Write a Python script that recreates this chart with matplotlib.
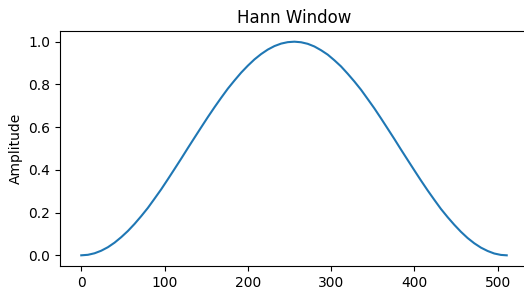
import numpy as np
import matplotlib
matplotlib.use('Agg')
import matplotlib.pyplot as plt

# sample index and amplitude
sample = [0, 8, 16, 24, 32, 40, 48, 56, 64, 72, 80, 88, 96, 104, 112, 120, 128,
          136, 144, 152, 160, 168, 176, 184, 192, 200, 208, 216, 224, 232, 240, 248, 256,
          264, 272, 280, 288, 296, 304, 312, 320, 328, 336, 344, 352, 360, 368, 376, 384,
          392, 400, 408, 416, 424, 432, 440, 448, 456, 464, 472, 480, 488, 496, 504, 511]
amplitude = [0.0, 0.0024, 0.0096, 0.0216, 0.038, 0.0593, 0.085, 0.1139, 0.147, 0.1834,
             0.222, 0.2652, 0.309, 0.3561, 0.404, 0.4524, 0.502,
             0.5507, 0.599, 0.6469, 0.693, 0.7373, 0.780, 0.8183, 0.855, 0.8875,
             0.917, 0.942, 0.963, 0.9794, 0.991, 0.9978, 1.0,
             0.9973, 0.990, 0.9776, 0.960, 0.9394, 0.913, 0.8842, 0.850, 0.8138,
             0.775, 0.7317, 0.688, 0.6411, 0.593, 0.5447, 0.495,
             0.4464, 0.398, 0.3502, 0.304, 0.2599, 0.217, 0.1787, 0.143, 0.1101,
             0.081, 0.0564, 0.036, 0.0204, 0.0085, 0.0019, 0.0]

fig = plt.figure(figsize=(5.24, 2.87), dpi=100)
ax = fig.add_axes([60 / 524, 21 / 287, 468 / 524, 235 / 287])
ax.plot(sample, amplitude, color='#1f77b4')
ax.set_title('Hann Window')
ax.set_ylabel('Amplitude')
ax.set_xticks([0, 100, 200, 300, 400, 500])

fig.savefig('out.png', dpi=100)
